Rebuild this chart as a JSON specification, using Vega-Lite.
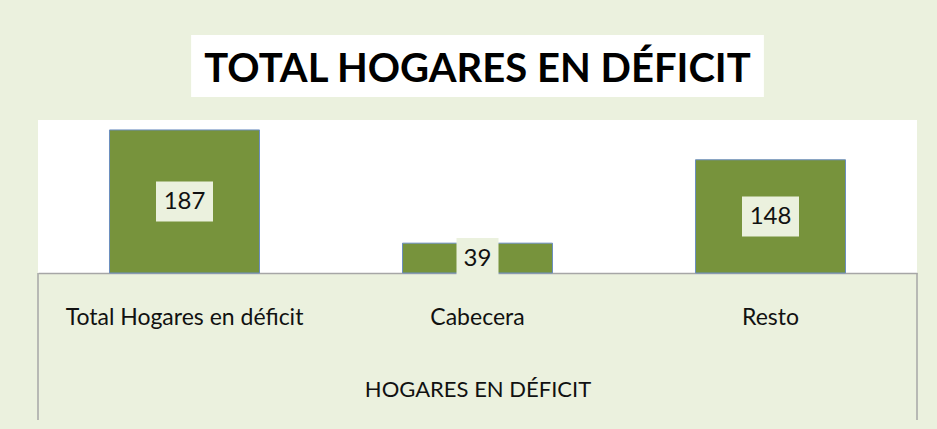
{
  "$schema": "https://vega.github.io/schema/vega-lite/v6.json",
  "width": 879,
  "height": 153,
  "autosize": {"type": "none"},
  "padding": {"left": 38, "top": 120, "right": 20, "bottom": 156},
  "background": "#EBF1DE",
  "view": {"fill": "white", "stroke": null},
  "title": {
    "text": "TOTAL HOGARES EN DÉFICIT",
    "font": "Lato",
    "fontWeight": "bold",
    "fontSize": 40,
    "color": "black",
    "anchor": "middle",
    "offset": -55
  },
  "data": {
    "values": [
      {"cat": "Total Hogares en déficit", "value": 187},
      {"cat": "Cabecera", "value": 39},
      {"cat": "Resto", "value": 148}
    ]
  },
  "transform": [{"calculate": "datum.value / 2", "as": "mid"}],
  "encoding": {
    "x": {
      "field": "cat",
      "type": "nominal",
      "sort": null,
      "scale": {"domain": ["Total Hogares en déficit", "Cabecera", "Resto"], "paddingInner": 0, "paddingOuter": 0},
      "axis": {
        "labelAngle": 0,
        "ticks": false,
        "domainColor": "#A6A6A6",
        "domainWidth": 1.5,
        "labelFont": "Lato",
        "labelFontSize": 23,
        "labelColor": "#111111",
        "labelLimit": 0,
        "labelBaseline": "alphabetic",
        "labelPadding": 51,
        "title": "HOGARES EN DÉFICIT",
        "titleFont": "Lato",
        "titleFontWeight": "normal",
        "titleFontSize": 22,
        "titleColor": "#111111",
        "titlePadding": 50
      }
    }
  },
  "layer": [
    {
      "mark": {"type": "bar", "color": "white", "width": 572},
      "encoding": {
        "x": {"datum": "Cabecera", "type": "nominal"},
        "y": {"datum": 230, "type": "quantitative", "scale": {"domain": [0, 200]}, "axis": null},
        "y2": {"datum": 311}
      }
    },
    {
      "mark": {"type": "bar", "color": "#77933C", "stroke": "#6C8EBF", "strokeWidth": 1, "width": {"band": 0.512}},
      "encoding": {
        "y": {"field": "value", "type": "quantitative", "scale": {"domain": [0, 200]}, "axis": null}
      }
    },
    {
      "mark": {"type": "bar", "color": "#EBF1DE", "width": {"expr": "datum.value < 100 ? 42 : 57"}, "yOffset": -20, "y2Offset": 20},
      "encoding": {
        "y": {"field": "mid", "type": "quantitative"},
        "y2": {"field": "mid"}
      }
    },
    {
      "mark": {"type": "text", "font": "Lato", "fontSize": 24, "color": "#111111", "baseline": "middle", "dy": 1},
      "encoding": {
        "y": {"field": "mid", "type": "quantitative"},
        "text": {"field": "value", "type": "quantitative"}
      }
    },
    {
      "transform": [{"filter": "datum.cat == 'Total Hogares en déficit'"}],
      "mark": {"type": "rule", "color": "#A6A6A6", "strokeWidth": 1.5},
      "encoding": {
        "x": {"field": "cat", "type": "nominal", "bandPosition": 0},
        "y": {"datum": 0, "type": "quantitative"},
        "y2": {"datum": -192}
      }
    },
    {
      "transform": [{"filter": "datum.cat == 'Resto'"}],
      "mark": {"type": "rule", "color": "#A6A6A6", "strokeWidth": 1.5},
      "encoding": {
        "x": {"field": "cat", "type": "nominal", "bandPosition": 1},
        "y": {"datum": 0, "type": "quantitative"},
        "y2": {"datum": -192}
      }
    }
  ]
}
